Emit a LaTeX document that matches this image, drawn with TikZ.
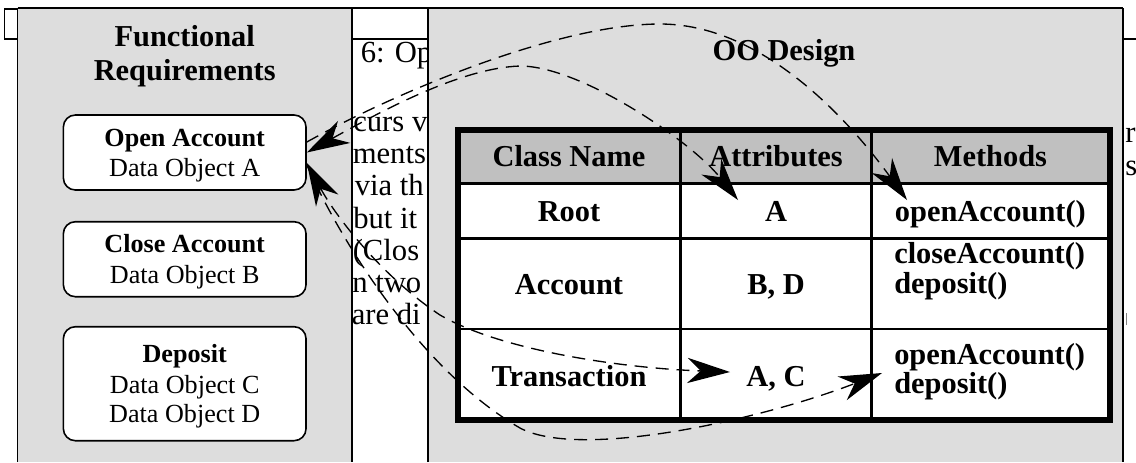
\documentclass[tikz,border=0pt]{standalone}
\usepackage{fontspec}
\setmainfont{Liberation Serif}
\usetikzlibrary{arrows.meta,calc}
\definecolor{panelgray}{RGB}{221,221,221}
\definecolor{headgray}{RGB}{192,192,192}
\begin{document}
\begin{tikzpicture}[x=0.75pt,y=-0.75pt,
  bgtext/.style={font=\fontsize{23}{27}\selectfont, inner sep=0pt, anchor=base west},
  titletext/.style={font=\fontsize{22.8}{26}\selectfont\bfseries, inner sep=0pt, anchor=base},
  reqbox/.style={draw, line width=1.2pt, rounded corners=9pt, fill=white, minimum width=182pt, inner sep=0pt},
  reqbold/.style={font=\fontsize{19.6}{22}\selectfont\bfseries, inner sep=0pt, anchor=base},
  reqtext/.style={font=\fontsize{19.6}{22}\selectfont, inner sep=0pt, anchor=base},
  cell/.style={font=\fontsize{22.8}{26}\selectfont\bfseries, inner sep=0pt, anchor=base},
  cellleft/.style={font=\fontsize{22.8}{26}\selectfont\bfseries, inner sep=0pt, anchor=base west},
  link/.style={dash pattern=on 9.75pt off 6pt, line width=1pt},
  >={Stealth[length=32pt,width=19pt,inset=10pt]}
]
\useasboundingbox (0,0) rectangle (1136,462);
\fill[white] (0,0) rectangle (1136,462);

% page text behind the panels
\begin{scope}
\clip (352,39) rectangle (428,462);
\node[bgtext] (t0) at (360.5,62) {6: Op};
\node[bgtext] (t1) at (353,131) {curs v};
\node[bgtext] (t2) at (352.5,163) {ments};
\node[bgtext] (t3) at (354.5,195.5) {via th};
\node[bgtext] (t4) at (353,228) {but it};
\node[bgtext] (t5) at (352.5,260) {(Clos};
\node[bgtext] (t6) at (352,292) {n two};
\node[bgtext] (t7) at (351.5,324) {are di};
\end{scope}
\begin{scope}
\clip (1123,39) rectangle (1136,462);
\node[bgtext] (t8) at (1125,142) {r};
\node[bgtext] (t9) at (1125,175) {s};
\end{scope}
\draw[gray, line width=0.5pt] (1126,313) -- (1126,325);

% page rules
\draw[line width=0.9pt, fill=white] (4.3,9) rectangle (17.5,39);
\draw[line width=0.8pt] (352,39) -- (428,39);
\draw[line width=0.8pt] (1123,39) -- (1136,39);

% panels
\fill[panelgray] (17.5,8) rectangle (352,462);
\fill[panelgray] (428,8) rectangle (1123,462);
\draw[line width=1.3pt] (17.5,462) -- (17.5,8);
\draw[line width=1pt] (352,8) -- (352,462);
\draw[line width=1pt] (428,462) -- (428,8);
\draw[line width=1pt] (1123,8) -- (1123,462);
\draw[line width=1.6pt] (17.5,8) -- (1123,8);

% functional requirements
\node[titletext] (fr1) at (184.7,46.7) {Functional};
\node[titletext] (fr2) at (184.7,80) {Requirements};

\node[reqbox, minimum height=56.25pt] (oa) at (184.7,152.5) {};
\node[reqbold] (oa1) at (184.7,146.7) {Open Account};
\node[reqtext] (oa2) at (184.7,176) {Data Object A};

\node[reqbox, minimum height=56.25pt] (ca) at (184.7,259.2) {};
\node[reqbold] (ca1) at (184.7,252.7) {Close Account};
\node[reqtext] (ca2) at (184.7,283.3) {Data Object B};

\node[reqbox, minimum height=85.5pt] (dp) at (184.7,383.7) {};
\node[reqbold] (dp1) at (184.7,362.7) {Deposit};
\node[reqtext] (dp2) at (184.7,393.3) {Data Object C};
\node[reqtext] (dp3) at (184.7,422.7) {Data Object D};

% OO design
\node[titletext] (oo) at (784,60) {OO Design};

\fill[headgray] (458,130) rectangle (1109.5,183.3);
\fill[white] (458,183.3) rectangle (1109.5,419.7);
\draw[line width=2.5pt] (458,183.3) -- (1109.5,183.3);
\draw[line width=2.2pt] (458,238.3) -- (1109.5,238.3);
\draw[line width=2.2pt] (458,329) -- (1109.5,329);
\draw[line width=2pt] (680.7,130) -- (680.7,419.7);
\draw[line width=2pt] (871.3,130) -- (871.3,419.7);
\draw[line width=4.5pt] (458.3,130.3) rectangle (1109.5,419.7);

\node[cell] (hC) at (569,166.7) {Class Name};
\node[cell] (hA) at (776,166.7) {Attributes};
\node[cell] (hM) at (990.4,166.7) {Methods};

\node[cell] (r1c) at (569,221.7) {Root};
\node[cell] (r1a) at (776,221.7) {A};
\node[cell] (r1m) at (990.4,221.7) {openAccount()};

\node[cell] (r2c) at (569,294) {Account};
\node[cell] (r2a) at (776,294) {B, D};
\node[cellleft] (r2m1) at (894,263) {closeAccount()};
\node[cellleft] (r2m2) at (894,293) {deposit()};

\node[cell] (r3c) at (569,386) {Transaction};
\node[cell] (r3a) at (776,386) {A, C};
\node[cellleft] (r3m1) at (894,364) {openAccount()};
\node[cellleft] (r3m2) at (894,393) {deposit()};

% arrow ends
\coordinate (tipRA) at (738,200);
\coordinate (tipRM) at (907,200);
\coordinate (tipTA) at (730,372);
\coordinate (tipTM) at (882,373);

% connectors
\draw[link,->] ($(oa.east)+(0,-10.5)$) .. controls (400,90) and (560,24) .. (660,24)
   .. controls (760,24) and (845,115) .. (tipRM);
\draw[link,<->] (oa.east) .. controls (380,112) and (460,68) .. (520,66)
   .. controls (580,66) and (690,140) .. (tipRA);
\draw[link,<->] ($(oa.east)+(0,10.5)$) .. controls (335,215) and (380,275) .. (440,315)
   .. controls (500,350) and (620,368) .. (tipTA);
\draw[link,->] ($(oa.east)+(0,12.5)$) .. controls (340,240) and (420,370) .. (520,428)
   .. controls (580,460) and (760,420) .. (tipTM);
\end{tikzpicture}
\end{document}
